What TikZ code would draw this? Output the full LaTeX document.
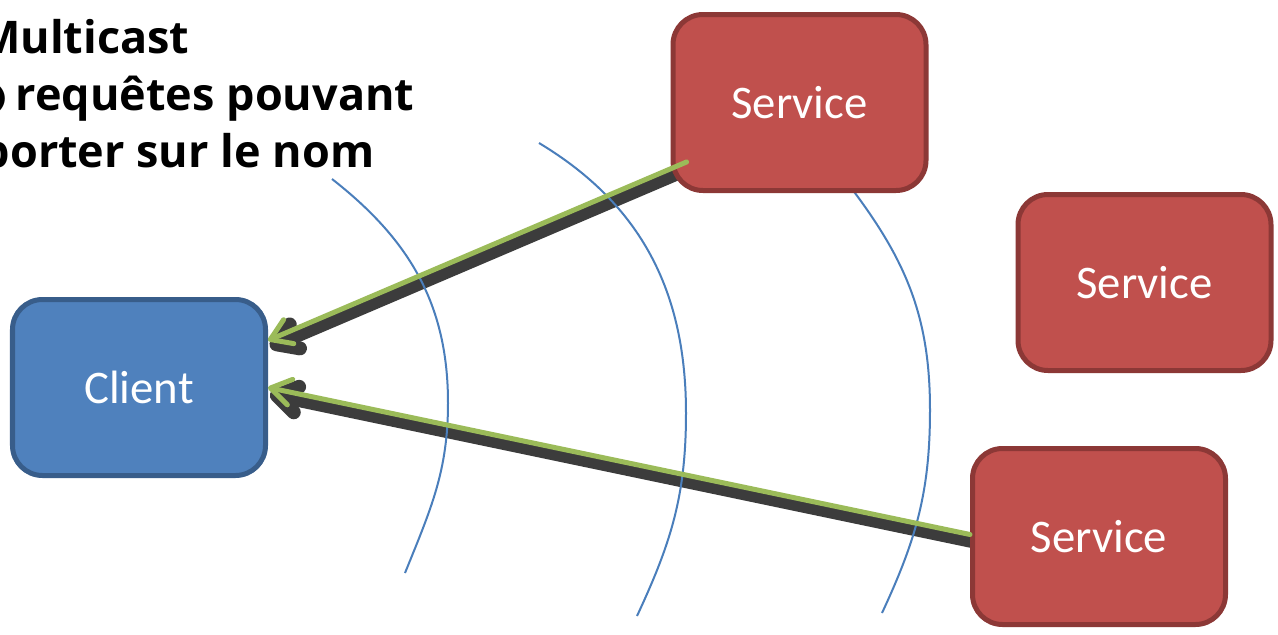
\documentclass[tikz,border=0pt]{standalone}
\usepackage{fontspec}
\setmainfont{Carlito}
\newfontfamily\titlefont{Open Sans}
\newfontfamily\dingfont{DejaVu Sans}
\usetikzlibrary{arrows.meta, backgrounds}
\definecolor{clientblue}{HTML}{4F81BD}
\definecolor{clientedge}{HTML}{385D8A}
\definecolor{servicered}{HTML}{C0504D}
\definecolor{serviceedge}{HTML}{8C3836}
\definecolor{msggreen}{HTML}{9BBB59}
\definecolor{shadowgray}{HTML}{3C3C3C}
\definecolor{wavecolor}{HTML}{4A7EBB}

\begin{document}
\begin{tikzpicture}
            [box/.style={rectangle, rounded corners=0.3cm, line width=0.05cm, minimum width=2.53cm, minimum height=1.76cm, text=white, font=\fontsize{13.3}{16}\selectfont},
             client/.style={box, fill=clientblue, draw=clientedge},
             service/.style={box, fill=servicered, draw=serviceedge},
             msg/.style={draw=msggreen, line width=0.05cm, line cap=round, -{Straight Barb[length=0.2cm, width=0.26cm, round]}},
             msgshadow/.style={draw=shadowgray, line width=0.14cm, transform canvas={shift={(0.02,-0.065)}}, -{Straight Barb[length=0.2cm, width=0.26cm, round]}},
             wave/.style={draw=wavecolor, line width=0.02cm},
             title/.style={inner sep=0pt, anchor=base east, font=\titlefont\bfseries\fontsize{12.8}{16}\selectfont}]
            \useasboundingbox (0, 0) rectangle (12.78, 6.34);

            \node[title] (ttl1) at (1.90, 5.81) {Multicast};
            \node[title] (blt) at (0.08, 5.24) {\dingfont ●};
            \node[title] (ttl2) at (4.15, 5.24) {requêtes pouvant};
            \node[title] (ttl3) at (3.75, 4.67) {porter sur le nom};

            \node[client] (cli) at (1.39, 2.465) {Client};
            \node[service] (srv1) at (7.995, 5.315) {Service};
            \node[service] (srv2) at (11.445, 3.515) {Service};
            \node[service] (srv3) at (10.99, 0.975) {Service};

            % shadows and waves behind the boxes
            \begin{scope}[on background layer]
                \fill[white] (0, 0) rectangle (12.78, 6.34);
                \draw[msgshadow] ([shift={(0.16, 0.31)}]srv1.south west) -- ([yshift=0.47cm]cli.east);
                \draw[msgshadow] ([yshift=0.02cm]srv3.west) -- (cli.east);
                \draw[wave] (3.32, 4.55) to[out=-38, in=90] (4.48, 2.31) to[out=-90, in=68] (4.05, 0.61);
                \draw[wave] (5.39, 4.91) to[out=-31, in=90] (6.86, 2.21) to[out=-90, in=65] (6.37, 0.18);
                \draw[wave] (8.52, 4.45) to[out=-53, in=90] (9.30, 2.24) to[out=-90, in=65] (8.82, 0.21);
            \end{scope}

            \draw[msg] ([shift={(0.16, 0.31)}]srv1.south west) -- ([yshift=0.47cm]cli.east);
            \draw[msg] ([yshift=0.02cm]srv3.west) -- (cli.east);
        \end{tikzpicture}
\end{document}
